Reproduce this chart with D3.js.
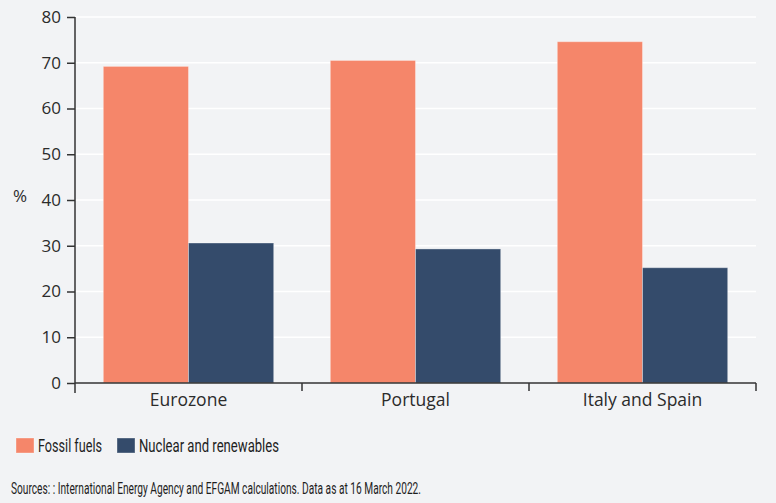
<!DOCTYPE html>
<html>
<head>
<meta charset="UTF-8">
<script src="https://cdn.jsdelivr.net/npm/d3@7"></script>
<style>
  body { margin: 0; background: #F2F3F5; }
  svg { display: block; background: #F2F3F5; }
  .tick text { font-family: "Open Sans", "Noto Sans", sans-serif; font-size: 16px; fill: #2b2b2b; }
  .narrow { font-family: Roboto, "Noto Sans", sans-serif; fill: #1e1e1e; }
</style>
</head>
<body>
<script>
// data
const categories = ["Eurozone", "Portugal", "Italy and Spain"];
const seriesNames = ["Fossil fuels", "Nuclear and renewables"];
const fossil = [69.2, 70.5, 74.6];
const nuclear = [30.6, 29.3, 25.2];
const yTicks = [0, 10, 20, 30, 40, 50, 60, 70, 80];
const colors = ["#F5866A", "#344B6B"];
const sourceText = "Sources: : International Energy Agency and EFGAM calculations. Data as at 16 March 2022.";

const W = 776, H = 503;
const margin = {top: 17, right: 20, bottom: 120, left: 75};

const svg = d3.select("body").append("svg")
  .attr("width", W)
  .attr("height", H);

const x0 = d3.scaleBand().domain(categories).range([margin.left, 756]);
const x1 = d3.scaleBand().domain(seriesNames).range([28.3, x0.bandwidth() - 28.3]);
const y = d3.scaleLinear().domain([0, 80]).range([383, 17]);

// gridlines
svg.append("g")
  .selectAll("line")
  .data(yTicks.filter(d => d > 0))
  .enter().append("line")
    .attr("x1", margin.left)
    .attr("x2", 756)
    .attr("y1", d => y(d))
    .attr("y2", d => y(d))
    .attr("stroke", "#fff")
    .attr("stroke-width", 1.5);

// bars
const rows = categories.map((c, i) => ({cat: c, vals: [fossil[i], nuclear[i]]}));
const grp = svg.append("g").selectAll("g")
  .data(rows)
  .enter().append("g")
    .attr("transform", d => "translate(" + x0(d.cat) + ",0)");

grp.selectAll("rect")
  .data(d => d.vals.map((v, j) => ({name: seriesNames[j], v: v, j: j})))
  .enter().append("rect")
    .attr("x", d => x1(d.name))
    .attr("width", x1.bandwidth())
    .attr("y", d => y(d.v))
    .attr("height", d => y(0) - y(d.v))
    .attr("fill", d => colors[d.j])
    .attr("stroke", "rgba(255,255,255,0.35)")
    .attr("stroke-width", 1);

// y axis
const yAxis = svg.append("g")
  .attr("transform", "translate(" + margin.left + ",0)")
  .call(d3.axisLeft(y).tickValues(yTicks).tickSize(8).tickPadding(6));
yAxis.select(".domain").attr("d", "M0," + y(80) + "V393").attr("stroke", "#333").attr("stroke-width", 1.5);
yAxis.selectAll(".tick line").attr("stroke", "#333").attr("stroke-width", 1.5);
yAxis.selectAll(".tick text").style("font-size", "17px");

// x axis
const xAxis = svg.append("g")
  .attr("transform", "translate(0," + y(0) + ")");
xAxis.append("line")
  .attr("x1", margin.left).attr("x2", 756)
  .attr("stroke", "#333").attr("stroke-width", 1.5);
xAxis.selectAll(".sep")
  .data(categories)
  .enter().append("line")
    .attr("class", "sep")
    .attr("x1", d => x0(d) + x0.bandwidth())
    .attr("x2", d => x0(d) + x0.bandwidth())
    .attr("y1", 0).attr("y2", 8)
    .attr("stroke", "#333").attr("stroke-width", 1.5);
xAxis.selectAll(".lab")
  .data(categories)
  .enter().append("text")
    .attr("class", "lab")
    .attr("x", d => x0(d) + x0.bandwidth() / 2)
    .attr("y", 23)
    .attr("text-anchor", "middle")
    .style("font-family", "'Open Sans', 'Noto Sans', sans-serif")
    .style("font-size", "17.5px")
    .style("fill", "#2b2b2b")
    .text(d => d);

// % label
svg.append("text")
  .attr("x", 13)
  .attr("y", 202)
  .style("font-family", "'Open Sans', 'Noto Sans', sans-serif")
  .style("font-size", "17px")
  .style("fill", "#2b2b2b")
  .text("%");

// legend
const legendX = [16, 117];
const legendLen = [64, 140];
const lg = svg.selectAll(".legend")
  .data(seriesNames)
  .enter().append("g")
    .attr("class", "legend")
    .attr("transform", (d, i) => "translate(" + legendX[i] + ",438)");
lg.append("rect")
  .attr("width", 18).attr("height", 15)
  .attr("fill", (d, i) => colors[i])
  .attr("stroke", "rgba(255,255,255,0.35)");
lg.append("text")
  .attr("class", "narrow")
  .attr("x", 22)
  .attr("y", 13.5)
  .attr("textLength", (d, i) => legendLen[i])
  .attr("lengthAdjust", "spacingAndGlyphs")
  .style("font-size", "19px")
  .text(d => d);

// source
svg.append("text")
  .attr("class", "narrow")
  .attr("x", 11)
  .attr("y", 494)
  .attr("textLength", 410)
  .attr("lengthAdjust", "spacingAndGlyphs")
  .style("font-size", "16px")
  .text(sourceText);
</script>
</body>
</html>
